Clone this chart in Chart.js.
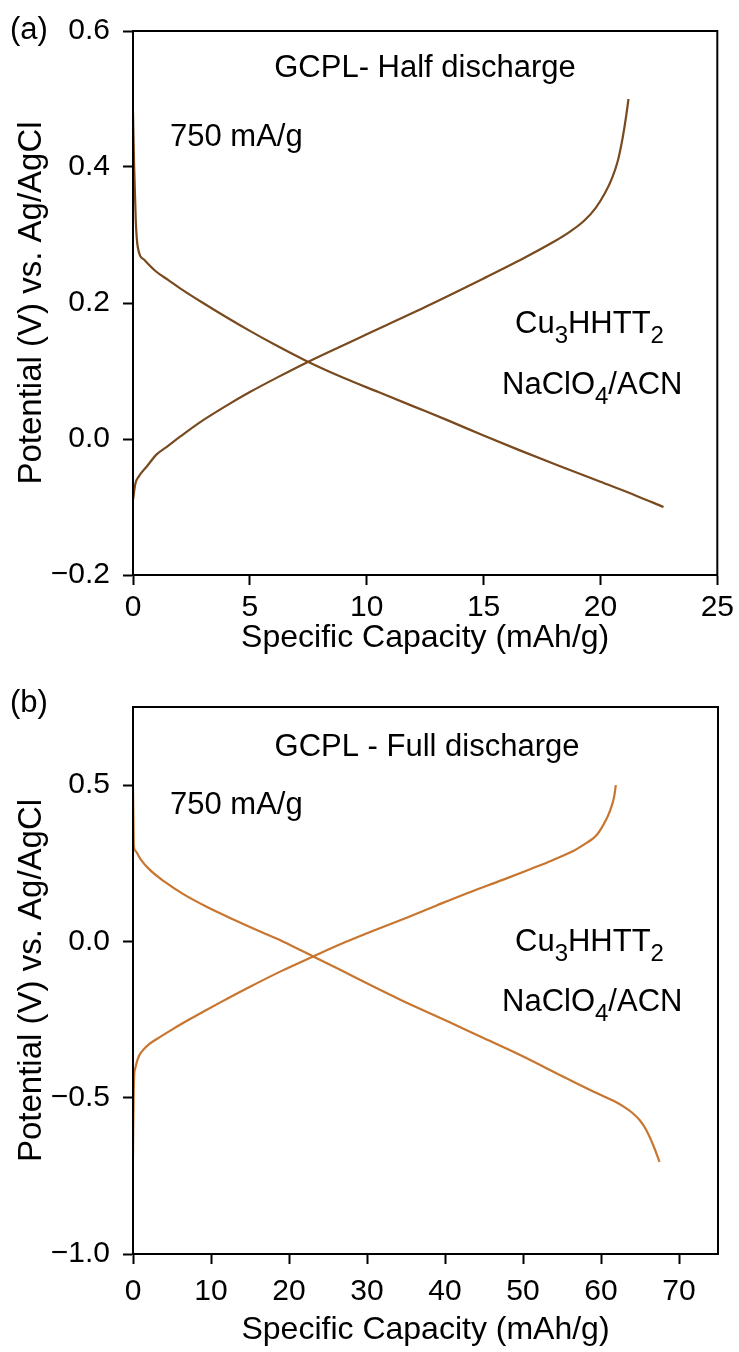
<!DOCTYPE html>
<html lang="en">
<head>
<meta charset="UTF-8">
<title>GCPL – Cu3HHTT2 in NaClO4/ACN</title>
<script src="https://cdn.jsdelivr.net/npm/chart.js@4.4.0/dist/chart.umd.min.js"></script>
<style>
  html, body { margin: 0; padding: 0; background: #fff; }
  .panel { position: absolute; left: 0; width: 739px; }
  #panel-a { top: 0; height: 680px; }
  #panel-b { top: 665px; height: 687px; }
</style>
</head>
<body>
<div class="panel" id="panel-a"><canvas id="chart-a"></canvas></div>
<div class="panel" id="panel-b"><canvas id="chart-b"></canvas></div>
<script>
// GCPL curves, points are [specific capacity (mAh/g), potential (V vs. Ag/AgCl)]

// (a) half discharge
const halfCharge = [
  [0, -0.09], [0.1, -0.066], [0.25, -0.055], [0.6, -0.04], [1, -0.023], [1.5, -0.01],
  [2, 0.003], [2.8, 0.023], [4, 0.049], [5, 0.069], [6.2, 0.091], [7.46, 0.113],
  [9, 0.138], [10, 0.154], [12.5, 0.194], [15, 0.236], [16.5, 0.262], [18, 0.29],
  [18.7, 0.305], [19.3, 0.321], [19.8, 0.34], [20.2, 0.362], [20.5, 0.384],
  [20.75, 0.41], [20.95, 0.443], [21.1, 0.475], [21.2, 0.5]
];
const halfDischarge = [
  [0, 0.48], [0.05, 0.4], [0.12, 0.32], [0.2, 0.283], [0.5, 0.263], [1, 0.246],
  [1.5, 0.234], [2, 0.222], [3, 0.2], [4, 0.179], [5, 0.159], [6, 0.14],
  [7.46, 0.114], [9, 0.09], [10.5, 0.069], [12, 0.048], [13.5, 0.027], [15, 0.005],
  [16.5, -0.016], [18.5, -0.043], [20, -0.063], [21.5, -0.083], [22.7, -0.1]
];

// (b) full discharge
const fullCharge = [
  [0, -0.69], [0.03, -0.6], [0.08, -0.5], [0.15, -0.43], [0.3, -0.405], [0.5, -0.385],
  [0.8, -0.365], [1.2, -0.35], [2, -0.33], [3, -0.313], [5, -0.282], [7.2, -0.25],
  [9, -0.225], [11.2, -0.195], [15, -0.145], [19, -0.095], [23.1, -0.048], [26.5, -0.01],
  [30.4, 0.03], [35, 0.075], [39, 0.116], [43, 0.156], [47.4, 0.197], [51, 0.232],
  [53.8, 0.26], [56.5, 0.29], [58.2, 0.316], [59, 0.33], [59.5, 0.342], [60, 0.36],
  [60.5, 0.382], [61, 0.408], [61.4, 0.436], [61.7, 0.465], [61.9, 0.5]
];
const fullDischarge = [
  [0, 0.49], [0.05, 0.4], [0.1, 0.31], [0.3, 0.29], [1, 0.262], [2.2, 0.228], [4, 0.192],
  [6.4, 0.152], [9.5, 0.11], [12.8, 0.071], [16, 0.035], [19.2, 0.0], [23.1, -0.048],
  [26.5, -0.09], [30.3, -0.138], [34.4, -0.188], [40.4, -0.256], [45, -0.31],
  [49.5, -0.362], [55.5, -0.437], [59, -0.48], [61.6, -0.51], [63, -0.53], [64, -0.548],
  [65, -0.573], [65.8, -0.603], [66.7, -0.652], [67.5, -0.705]
];

const halfXTicks = [0, 5, 10, 15, 20, 25];
const halfYTicks = [-0.2, 0, 0.2, 0.4, 0.6];
const fullXTicks = [0, 10, 20, 30, 40, 50, 60, 70];
const fullYTicks = [-1, -0.5, 0, 0.5];

const FONT = '"Liberation Sans", Arial, Helvetica, sans-serif';
const TEXT_SIZE = 31;
const HALF_COLOR = '#7a4a1f';
const FULL_COLOR = '#c8752f';

const toXY = pts => pts.map(p => ({ x: p[0], y: p[1] }));
const fmtY = v => v.toFixed(1).replace('-', '\u2212');

function axis(pos, min, max, ticks, title, opts) {
  return {
    type: 'linear', position: pos, min: min, max: max,
    afterBuildTicks: s => { s.ticks = ticks.map(v => ({ value: v })); },
    afterFit: s => { if (pos === 'left') s.width = opts.size; else s.height = opts.size; },
    border: { display: true, color: '#000', width: 2 },
    grid: { drawOnChartArea: false, drawTicks: true, tickLength: 10, tickWidth: 2, tickColor: '#000' },
    ticks: {
      autoSkip: false, maxRotation: 0, color: '#000', padding: opts.tickPad,
      font: { family: FONT, size: 30 },
      callback: pos === 'left' ? fmtY : v => String(v)
    },
    title: {
      display: true, text: title, color: '#000',
      font: { family: FONT, size: pos === 'left' ? 33 : 32 }, padding: opts.titlePad
    }
  };
}

// closes the box on top and right
const frame = {
  id: 'frame',
  afterDatasetsDraw(chart) {
    const { ctx, chartArea: a } = chart;
    ctx.save();
    ctx.strokeStyle = '#000';
    ctx.lineWidth = 2;
    ctx.strokeRect(a.left, a.top, a.right - a.left, a.bottom - a.top);
    ctx.restore();
  }
};

// free text with optional subscripts: parts are [text, isSub]
const notes = {
  id: 'notes',
  afterDraw(chart, args, opts) {
    const ctx = chart.ctx;
    ctx.save();
    ctx.fillStyle = '#000';
    ctx.textBaseline = 'alphabetic';
    ctx.textAlign = 'left';
    (opts.items || []).forEach(it => {
      const size = TEXT_SIZE;
      const subSize = Math.round(size * 0.76);
      let w = 0;
      it.parts.forEach(([t, sub]) => {
        ctx.font = (sub ? subSize : size) + 'px ' + FONT;
        w += ctx.measureText(t).width;
      });
      let x = it.align === 'center' ? it.x - w / 2 : it.x;
      it.parts.forEach(([t, sub]) => {
        ctx.font = (sub ? subSize : size) + 'px ' + FONT;
        ctx.fillText(t, x, it.y + (sub ? 10 : 0));
        x += ctx.measureText(t).width;
      });
    });
    ctx.restore();
  }
};

function line(data, color) {
  return {
    data: toXY(data), showLine: true, borderColor: color, borderWidth: 2.2,
    pointRadius: 0, cubicInterpolationMode: 'monotone', fill: false
  };
}

function makeChart(id, datasets, scales, padding, items) {
  return new Chart(document.getElementById(id), {
    type: 'scatter',
    data: { datasets: datasets },
    options: {
      responsive: true, maintainAspectRatio: false, animation: false,
      layout: { padding: padding },
      plugins: { legend: { display: false }, tooltip: { enabled: false }, notes: { items: items } },
      scales: scales
    },
    plugins: [frame, notes]
  });
}

const cuParts = [['Cu'], ['3', true], ['HHTT'], ['2', true]];
const saltParts = [['NaClO'], ['4', true], ['/ACN']];

makeChart('chart-a',
  [line(halfCharge, HALF_COLOR), line(halfDischarge, HALF_COLOR)],
  {
    x: axis('bottom', 0, 25, halfXTicks, 'Specific Capacity (mAh/g)', { size: 105, tickPad: 5, titlePad: { top: 0, bottom: 23 } }),
    y: axis('left', -0.2, 0.6, halfYTicks, 'Potential (V) vs. Ag/AgCl', { size: 133, tickPad: 13, titlePad: { top: 12, bottom: 0 } })
  },
  { top: 29, right: 21, left: 0, bottom: 0 },
  [
    { x: 10, y: 39, parts: [['(a)']] },
    { x: 425, y: 77, align: 'center', parts: [['GCPL- Half discharge']] },
    { x: 170, y: 146, parts: [['750 mA/g']] },
    { x: 515, y: 333, parts: cuParts },
    { x: 502, y: 394, parts: saltParts }
  ]
);

makeChart('chart-b',
  [line(fullCharge, FULL_COLOR), line(fullDischarge, FULL_COLOR)],
  {
    x: axis('bottom', 0, 75, fullXTicks, 'Specific Capacity (mAh/g)', { size: 98, tickPad: 10, titlePad: { top: 0, bottom: 3 } }),
    y: axis('left', -1, 0.75, fullYTicks, 'Potential (V) vs. Ag/AgCl', { size: 133, tickPad: 13, titlePad: { top: 12, bottom: 0 } })
  },
  { top: 42, right: 21, left: 0, bottom: 0 },
  [
    { x: 10, y: 47, parts: [['(b)']] },
    { x: 427, y: 91, align: 'center', parts: [['GCPL - Full discharge']] },
    { x: 170, y: 149, parts: [['750 mA/g']] },
    { x: 515, y: 286, parts: cuParts },
    { x: 502, y: 346, parts: saltParts }
  ]
);
</script>
</body>
</html>
